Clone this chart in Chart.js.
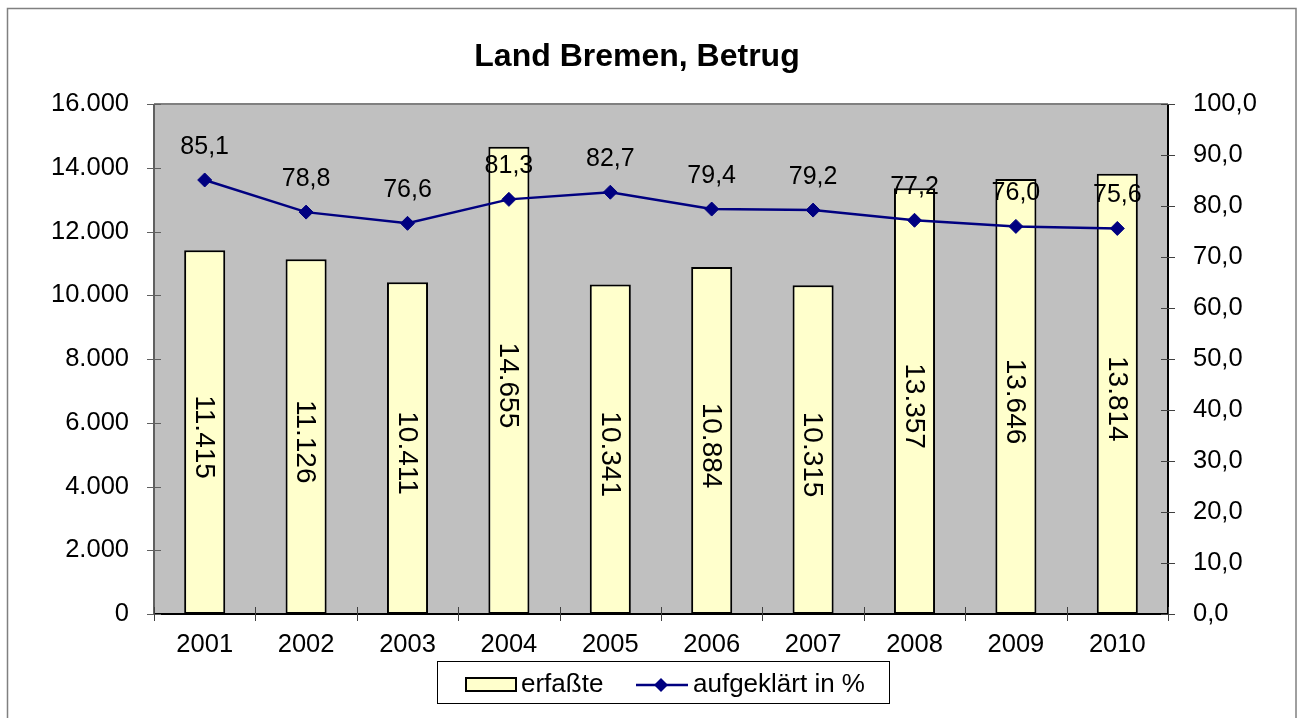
<!DOCTYPE html>
<html>
<head>
<meta charset="utf-8">
<script src="https://cdn.jsdelivr.net/npm/chart.js@4/dist/chart.umd.min.js"></script>
<style>
html,body{margin:0;padding:0;background:#fff;}
#wrap{position:absolute;left:0;top:0;width:1298px;height:718px;}
</style>
</head>
<body>
<div id="wrap"><canvas id="c" width="1298" height="718"></canvas></div>
<script>
const categories = ['2001','2002','2003','2004','2005','2006','2007','2008','2009','2010'];
const erfasste = [11415, 11126, 10411, 14655, 10341, 10884, 10315, 13357, 13646, 13814];
const aufgeklaert = [85.1, 78.8, 76.6, 81.3, 82.7, 79.4, 79.2, 77.2, 76.0, 75.6];
const leftTicks = [0, 2000, 4000, 6000, 8000, 10000, 12000, 14000, 16000];
const rightTicks = [0, 10, 20, 30, 40, 50, 60, 70, 80, 90, 100];
const titleText = 'Land Bremen, Betrug';
const seriesNames = ['erfaßte', 'aufgeklärt in %'];

const FONT = '"Liberation Sans", Arial, sans-serif';
const fmtInt = v => v.toLocaleString('de-DE');
const fmtPct = v => v.toFixed(1).replace('.', ',');

const decor = {
  id: 'decor',
  beforeDraw(chart) {
    const ctx = chart.ctx, a = chart.chartArea;
    ctx.save();
    ctx.fillStyle = '#fff';
    ctx.fillRect(0, 0, chart.width, chart.height);
    ctx.fillStyle = '#C0C0C0';
    ctx.fillRect(a.left, a.top, a.right - a.left, a.bottom - a.top);
    ctx.restore();
  },
  afterDatasetsDraw(chart) {
    const ctx = chart.ctx, a = chart.chartArea;
    const y = chart.scales.y, y1 = chart.scales.y1;
    ctx.save();
    ctx.lineWidth = 2;
    ctx.strokeStyle = '#808080';
    ctx.beginPath(); ctx.moveTo(a.left, a.top); ctx.lineTo(a.right, a.top); ctx.stroke();
    ctx.strokeStyle = '#606060';
    ctx.beginPath(); ctx.moveTo(a.left, a.top); ctx.lineTo(a.left, a.bottom); ctx.stroke();
    ctx.strokeStyle = '#000';
    ctx.beginPath(); ctx.moveTo(a.right, a.top); ctx.lineTo(a.right, a.bottom); ctx.stroke();
    ctx.beginPath(); ctx.moveTo(a.left, a.bottom); ctx.lineTo(a.right, a.bottom); ctx.stroke();
    ctx.lineWidth = 1;
    ctx.strokeStyle = '#606060';
    leftTicks.forEach(v => {
      const p = Math.round(y.getPixelForValue(v)) + 0.5;
      ctx.beginPath(); ctx.moveTo(a.left - 7, p); ctx.lineTo(a.left + 7, p); ctx.stroke();
    });
    ctx.strokeStyle = '#404040';
    rightTicks.forEach(v => {
      const p = Math.round(y1.getPixelForValue(v)) + 0.5;
      ctx.beginPath(); ctx.moveTo(a.right - 7, p); ctx.lineTo(a.right + 7, p); ctx.stroke();
    });
    const n = categories.length;
    for (let i = 0; i <= n; i++) {
      const p = Math.round(a.left + (a.right - a.left) * i / n) + 0.5;
      ctx.beginPath(); ctx.moveTo(p, a.bottom - 7); ctx.lineTo(p, a.bottom + 7); ctx.stroke();
    }
    ctx.restore();
  },
  afterDraw(chart) {
    const ctx = chart.ctx;
    ctx.save();
    const barMeta = chart.getDatasetMeta(0);
    ctx.fillStyle = '#000';
    ctx.textAlign = 'center';
    ctx.textBaseline = 'middle';
    ctx.font = '28px ' + FONT;
    barMeta.data.forEach((bar, i) => {
      const cy = (bar.y + bar.base) / 2 + 5;
      ctx.save();
      ctx.translate(bar.x, cy);
      ctx.rotate(Math.PI / 2);
      ctx.fillText(fmtInt(erfasste[i]), 0, 1);
      ctx.restore();
    });
    ctx.font = '25px ' + FONT;
    const lineMeta = chart.getDatasetMeta(1);
    lineMeta.data.forEach((pt, i) => {
      ctx.fillText(fmtPct(aufgeklaert[i]), pt.x, pt.y - 33);
    });
    ctx.font = 'bold 32px ' + FONT;
    ctx.fillText(titleText, 637, 57);
    ctx.strokeStyle = '#808080';
    ctx.lineWidth = 1.5;
    ctx.strokeRect(7.5, 8.5, 1288.5, 720);
    ctx.strokeStyle = '#000';
    ctx.lineWidth = 1;
    ctx.strokeRect(437.5, 661.5, 452, 42);
    ctx.fillStyle = '#FFFFCC';
    ctx.fillRect(466, 678, 50, 13);
    ctx.lineWidth = 2;
    ctx.strokeRect(466, 678, 50, 13);
    ctx.fillStyle = '#000';
    ctx.font = '26px ' + FONT;
    ctx.textAlign = 'left';
    ctx.fillText(seriesNames[0], 521, 685);
    ctx.strokeStyle = '#000080';
    ctx.lineWidth = 2.5;
    ctx.beginPath(); ctx.moveTo(636, 685); ctx.lineTo(688, 685); ctx.stroke();
    ctx.fillStyle = '#000080';
    ctx.beginPath();
    ctx.moveTo(661, 678); ctx.lineTo(668, 685); ctx.lineTo(661, 692); ctx.lineTo(654, 685); ctx.closePath(); ctx.fill();
    ctx.fillStyle = '#000';
    ctx.fillText(seriesNames[1], 693, 685);
    ctx.restore();
  }
};

new Chart(document.getElementById('c'), {
  data: {
    labels: categories,
    datasets: [
      {
        type: 'bar',
        label: seriesNames[0],
        data: erfasste,
        yAxisID: 'y',
        backgroundColor: '#FFFFCC',
        borderColor: '#000',
        borderWidth: 2,
        borderSkipped: false,
        categoryPercentage: 1,
        barPercentage: 0.405,
        order: 2
      },
      {
        type: 'line',
        label: seriesNames[1],
        data: aufgeklaert,
        yAxisID: 'y1',
        borderColor: '#000080',
        backgroundColor: '#000080',
        borderWidth: 2.5,
        pointStyle: 'rectRot',
        pointRadius: 7,
        pointHoverRadius: 7,
        pointBackgroundColor: '#000080',
        pointBorderColor: '#000080',
        pointBorderWidth: 1,
        tension: 0,
        order: 1
      }
    ]
  },
  options: {
    responsive: false,
    animation: false,
    events: [],
    layout: { padding: { top: 104, left: 0, right: 0, bottom: 0 } },
    plugins: { legend: { display: false }, title: { display: false }, tooltip: { enabled: false } },
    scales: {
      x: {
        type: 'category',
        offset: true,
        grid: { display: false, drawTicks: false },
        border: { display: false },
        ticks: { color: '#000', font: { family: FONT, size: 25.5 }, padding: 16, maxRotation: 0 },
        afterFit: s => { s.height = 104; }
      },
      y: {
        type: 'linear',
        position: 'left',
        min: 0, max: 16000,
        grid: { display: false, drawTicks: false },
        border: { display: false },
        afterBuildTicks: s => { s.ticks = leftTicks.map(v => ({ value: v })); },
        ticks: { color: '#000', font: { family: FONT, size: 25.5 }, padding: 25, callback: v => fmtInt(v) },
        afterFit: s => { s.width = 154; }
      },
      y1: {
        type: 'linear',
        position: 'right',
        min: 0, max: 100,
        grid: { display: false, drawTicks: false },
        border: { display: false },
        afterBuildTicks: s => { s.ticks = rightTicks.map(v => ({ value: v })); },
        ticks: { color: '#000', font: { family: FONT, size: 25.5 }, padding: 25, callback: v => fmtPct(v) },
        afterFit: s => { s.width = 130; }
      }
    }
  },
  plugins: [decor]
});
</script>
</body>
</html>
